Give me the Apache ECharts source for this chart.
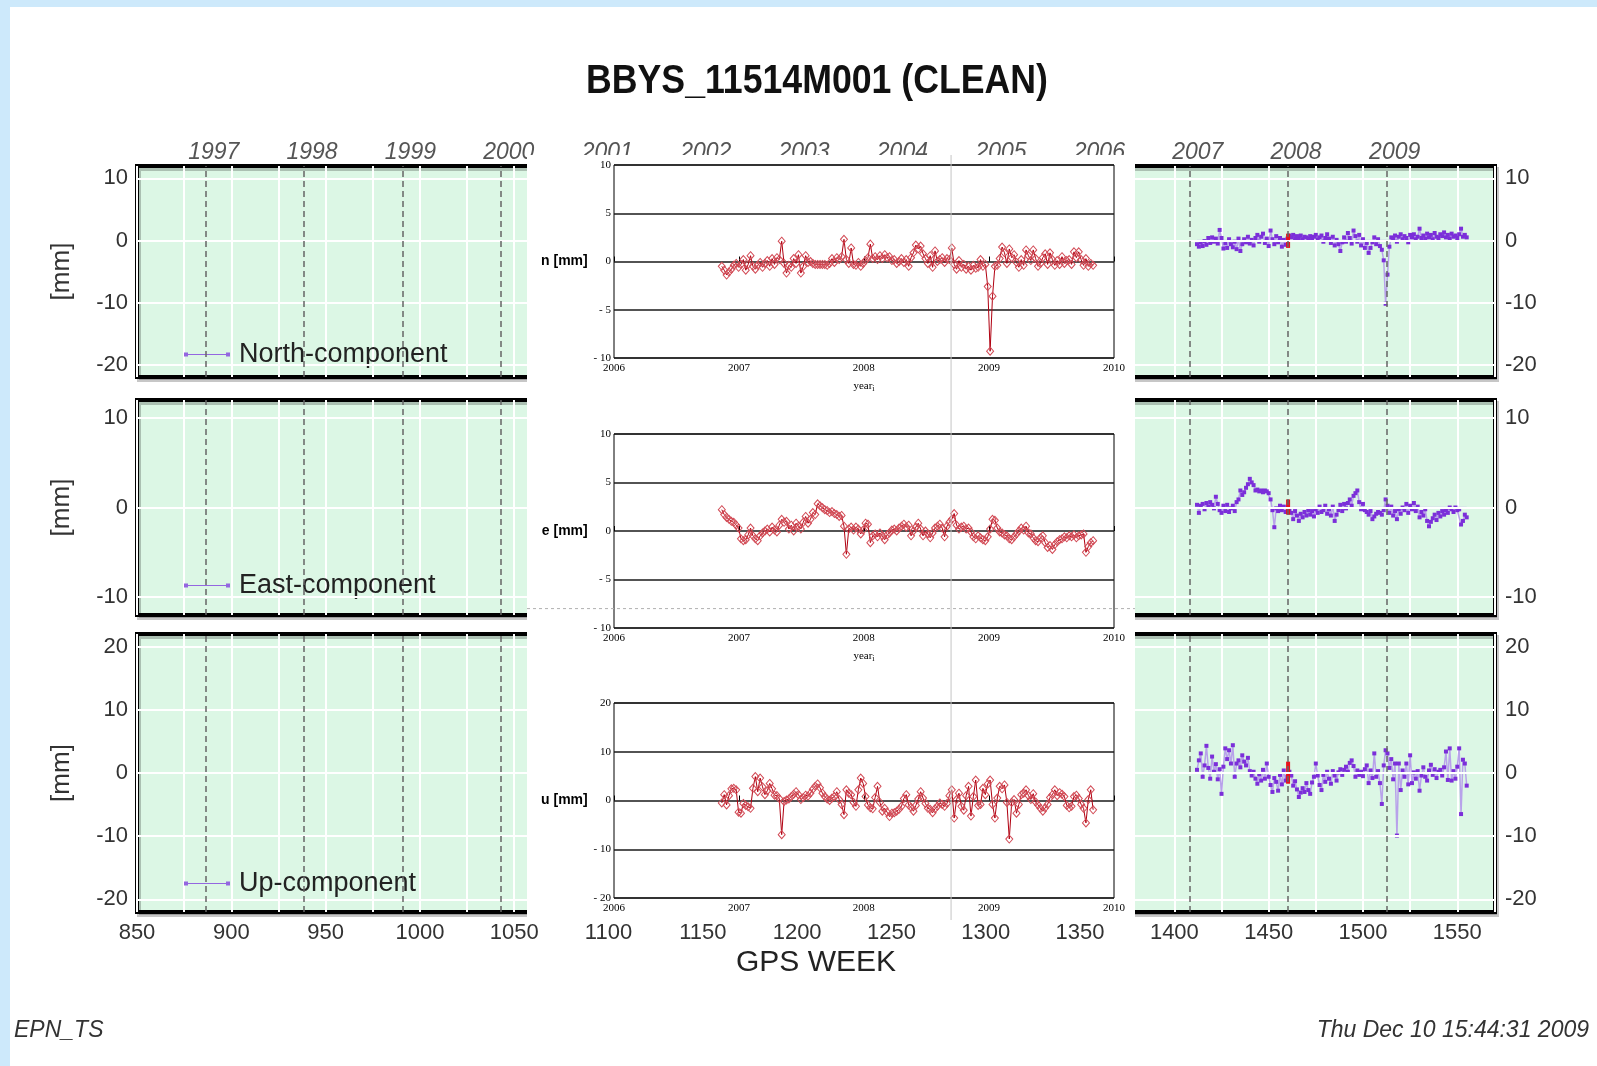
<!DOCTYPE html>
<html>
<head>
<meta charset="utf-8">
<title>BBYS_11514M001 (CLEAN)</title>
<script src="https://cdn.jsdelivr.net/npm/echarts@6.0.0/dist/echarts.min.js"></script>
<style>
  html, body { margin:0; padding:0; background:#cde9fb; width:1597px; height:1066px; overflow:hidden; }
  #paper { position:absolute; left:10px; top:7px; width:1587px; height:1059px; background:#fff; }
  #main { position:absolute; left:0; top:0; width:1597px; height:1066px; }
  #inset { position:absolute; left:527px; top:155px; width:608px; height:765px; background:#fff; }
</style>
</head>
<body>
<div id="paper"></div>
<div id="main"></div>
<div id="inset"></div>
<script>
// ---- main plot data (GPS week, mm) ----
const purpleWeeks = [
  1412,1413,1414,1415,1416,1417,1418,1419,1420,1421,
  1422,1423,1424,1425,1426,1427,1428,1429,1430,1431,
  1432,1433,1434,1435,1436,1437,1438,1439,1440,1441,
  1442,1443,1444,1445,1446,1447,1448,1449,1450,1451,
  1452,1453,1454,1455,1456,1457,1458,1459,1460,1461,
  1462,1463,1464,1465,1466,1467,1468,1469,1470,1471,
  1472,1473,1474,1475,1476,1477,1478,1479,1480,1481,
  1482,1483,1484,1485,1486,1487,1488,1489,1490,1491,
  1492,1493,1494,1495,1496,1497,1498,1499,1500,1501,
  1502,1503,1504,1505,1506,1507,1508,1509,1510,1511,
  1512,1513,1514,1515,1516,1517,1518,1519,1520,1521,
  1522,1523,1524,1525,1526,1527,1528,1529,1530,1531,
  1532,1533,1534,1535,1536,1537,1538,1539,1540,1541,
  1542,1543,1544,1545,1546,1547,1548,1549,1550,1551,
  1552,1553,1554,1555
];
const purpleN = [
  -0.6,-1.0,-0.3,-0.9,-0.1,-0.7,0.4,-0.4,0.5,-0.2,
  0.3,-0.5,1.7,0.4,-1.3,-0.4,-1.2,0.2,-0.6,-1.1,
  -0.2,-1.4,0.3,-1.7,-0.6,0.2,-0.3,0.6,-0.5,0.1,
  -0.8,0.4,0.9,-0.2,0.6,1.1,-0.4,0.3,-0.9,1.6,
  0.2,-0.6,0.7,-0.3,0.4,-1.0,0.1,-0.7,0.3,0.8,
  0.5,0.9,0.3,0.7,0.4,0.8,0.2,0.6,0.5,0.3,
  0.7,0.1,0.6,0.9,0.2,0.5,0.8,-0.2,0.4,1.0,
  0.3,-0.4,0.6,-0.8,0.1,-0.6,-1.7,-0.3,0.5,-0.2,
  1.2,0.4,-0.5,1.6,0.7,-0.2,0.9,-0.8,0.2,-1.2,
  -0.4,-2.0,-1.2,-0.3,0.5,-0.6,0.2,-0.9,-1.5,-3.2,
  -10.2,-5.5,-1.0,0.5,0.3,0.8,-0.2,0.6,1.0,0.2,
  0.7,0.4,-0.3,0.9,0.5,1.0,0.2,0.6,1.9,0.4,
  0.8,0.3,1.1,0.5,0.9,0.2,1.2,0.6,0.4,1.0,
  0.7,1.3,0.5,0.9,0.3,1.1,0.6,0.8,0.4,1.0,
  1.9,0.6,0.9,0.5
];
const purpleE = [
  0.3,-0.6,0.2,0.4,-0.2,0.5,0.1,0.6,0.3,-0.1,
  1.2,0.4,-0.3,-0.6,0.2,-0.4,0.3,-0.5,-0.1,0.2,
  -0.4,0.6,0.9,1.9,1.4,1.7,2.2,2.6,3.2,2.8,
  2.5,1.9,2.0,1.8,1.9,1.7,1.9,1.8,1.6,0.9,
  -0.3,-2.2,-0.1,-0.4,0.2,-0.3,0.1,-0.5,0.0,-0.2,
  -0.6,-1.3,-0.4,-0.9,-1.5,-0.7,-1.1,-0.5,-0.9,-0.3,
  -0.8,-0.4,-1.0,-0.2,-0.6,0.1,-0.5,-0.3,0.2,-0.7,
  -0.2,-0.9,0.1,-1.5,-0.8,-0.3,0.3,-0.4,0.4,-0.1,
  0.5,0.9,0.2,1.3,1.6,1.9,0.6,-0.2,0.4,-0.3,
  -0.5,-0.8,-0.4,-1.3,-1.0,-0.7,-0.5,-0.6,-0.8,-0.3,
  0.9,0.2,-0.6,0.1,-0.9,-0.4,-1.3,-0.2,-0.7,0.0,
  -0.3,0.4,-0.6,0.2,-0.2,0.5,-0.4,0.1,-1.1,-0.5,
  -0.9,-0.2,-1.5,-2.1,-1.6,-1.2,-0.8,-1.4,-0.6,-1.0,
  -0.4,-0.8,-0.3,-0.6,0.0,-0.2,-0.5,0.0,-0.3,-0.2,
  -1.9,-1.5,-0.8,-1.1
];
const purpleU = [
  0.5,2.0,3.1,-0.6,1.2,4.3,0.8,-0.9,2.6,0.2,
  1.4,-1.0,0.6,-3.3,1.0,3.9,2.2,3.6,1.5,4.4,
  -0.6,1.5,2.0,0.9,2.8,1.8,1.2,2.4,0.3,-0.4,
  0.2,-0.9,-1.7,-0.2,-1.2,0.5,-0.9,1.5,-0.6,-1.9,
  -3.0,-0.8,-1.4,-2.8,-0.3,-1.8,0.4,-1.2,-0.6,0.2,
  -0.4,-2.0,-1.3,-2.6,-3.8,-3.1,-2.4,-3.0,-1.6,-2.7,
  -3.3,-1.5,-0.6,1.5,-0.4,-1.9,-2.7,-0.3,-1.4,0.2,
  -0.9,-1.7,0.3,-0.4,-1.2,0.1,0.6,-0.3,0.5,1.0,
  0.2,1.6,2.0,1.1,-0.6,0.4,-0.3,0.2,-0.5,0.6,
  1.2,-1.6,0.4,-0.8,3.1,-0.6,0.3,-1.6,-4.9,1.2,
  3.6,3.1,0.8,2.2,-1.0,1.5,-9.9,1.5,-2.7,0.4,
  -0.6,1.5,-1.8,2.8,-1.6,0.1,-0.9,0.3,-2.8,-0.4,
  0.9,-0.6,-1.2,0.4,1.3,-0.3,0.6,-0.8,0.2,0.5,
  -0.4,0.9,3.4,-1.1,3.9,-1.2,0.3,-0.9,1.0,3.9,
  -6.5,2.1,1.5,-2.0
];
// zero reference segment and the red change marker (week, [low, high])
const zeroSpan = [1412, 1555];
const changeWeek = 1460.3;
const changeN = [-1.2, 1.1];
const changeE = [-0.8, 0.9];
const changeU = [-1.7, 1.8];

// year boundaries in GPS weeks (top labels, dashed lines)
const yearWeeks = [886.43, 938.57, 990.71, 1042.86, 1095.14, 1147.29, 1199.43, 1251.57, 1303.86, 1356.0, 1408.14, 1460.29, 1512.57];
const yearLabels = ['1997','1998','1999','2000','2001','2002','2003','2004','2005','2006','2007','2008','2009'];
const weekMin = 850, weekMax = 1570;
const yTicksN = [-20,-10,0,10];
const yTicksE = [-10,0,10];
const yTicksU = [-20,-10,0,10,20];

// ---- inset data (pasted plot, weeks shown as years) ----
const redWeeks = [
  1401,1402,1403,1404,1405,1406,1407,1408,1409,1410,
  1411,1412,1413,1414,1415,1416,1417,1418,1419,1420,
  1421,1422,1423,1424,1425,1426,1427,1428,1429,1430,
  1431,1432,1433,1434,1435,1436,1437,1438,1439,1440,
  1441,1442,1443,1444,1445,1446,1447,1448,1449,1450,
  1451,1452,1453,1454,1455,1456,1457,1458,1459,1460,
  1461,1462,1463,1464,1465,1466,1467,1468,1469,1470,
  1471,1472,1473,1474,1475,1476,1477,1478,1479,1480,
  1481,1482,1483,1484,1485,1486,1487,1488,1489,1490,
  1491,1492,1493,1494,1495,1496,1497,1498,1499,1500,
  1501,1502,1503,1504,1505,1506,1507,1508,1509,1510,
  1511,1512,1513,1514,1515,1516,1517,1518,1519,1520,
  1521,1522,1523,1524,1525,1526,1527,1528,1529,1530,
  1531,1532,1533,1534,1535,1536,1537,1538,1539,1540,
  1541,1542,1543,1544,1545,1546,1547,1548,1549,1550,
  1551,1552,1553,1554,1555,1556
];
const redN = [
  -0.5,-0.9,-1.4,-1.1,-0.8,-0.4,-0.2,-0.6,-0.3,0.2,
  -0.9,-0.3,0.6,-0.5,-0.8,-0.4,-0.1,-0.6,-0.2,0.1,
  -0.5,0.3,-0.3,0.4,0.2,2.1,-0.2,-1.2,-0.4,-0.6,
  0.3,-0.2,0.7,-1.2,-0.5,0.6,-0.1,0.0,-0.2,-0.3,
  -0.3,-0.3,-0.3,-0.3,-0.4,-0.2,0.3,-0.1,0.4,0.2,
  0.5,2.3,0.2,-0.2,1.4,-0.3,-0.4,-0.1,-0.5,-0.2,
  0.1,0.4,1.8,0.3,0.5,0.2,0.6,0.3,0.7,0.4,
  0.5,0.1,0.2,-0.2,0.0,0.3,-0.1,0.2,-0.5,0.4,
  0.9,1.7,1.3,1.6,0.8,0.3,-0.2,0.6,-0.6,1.1,
  0.0,0.2,0.4,-0.1,0.3,0.2,1.4,-0.3,-0.8,0.1,
  -0.6,-0.3,-0.8,-0.5,-0.9,-0.4,-0.7,-0.6,0.2,-0.5,
  -0.3,-2.6,-9.3,-3.6,-0.5,-0.4,0.3,1.5,0.9,-0.2,
  1.3,0.4,0.7,-0.1,-0.6,0.2,-0.4,1.2,0.6,0.1,
  1.2,0.3,-0.5,-0.2,0.4,0.8,-0.3,0.9,0.2,-0.4,
  0.1,-0.3,0.5,-0.2,0.1,0.2,-0.3,1.0,0.4,1.0,
  0.2,-0.4,0.3,-0.5,-0.2,-0.4
];
const redE = [
  2.2,1.7,1.4,1.2,1.0,0.9,0.6,0.3,-0.8,-1.0,
  -0.9,-0.4,0.3,-0.5,-0.8,-1.0,-0.5,-0.2,0.0,0.2,
  -0.1,0.4,0.1,-0.1,0.6,1.2,0.9,1.0,0.2,0.6,
  0.0,0.8,0.5,0.2,0.9,1.5,0.8,1.2,1.9,1.7,
  2.8,2.6,2.4,2.2,2.1,1.9,2.0,1.8,1.7,1.5,
  1.6,0.5,-2.4,0.2,0.4,0.1,0.4,0.2,-0.3,0.1,
  0.8,0.7,-1.2,-0.5,-0.3,-0.6,-0.2,-0.5,-0.9,-0.4,
  -0.2,0.1,0.2,0.0,0.3,0.5,0.7,0.4,0.6,-0.5,
  0.0,0.4,0.8,0.2,-0.5,0.0,-0.3,-0.7,-0.2,0.3,
  0.5,0.7,0.3,-0.6,0.5,0.9,1.2,1.8,0.6,0.2,
  0.4,0.5,0.2,0.3,-0.1,-0.6,-0.8,-0.5,-0.7,-0.9,
  -1.0,-0.6,0.2,1.2,1.1,0.3,-0.1,-0.2,-0.4,-0.5,
  -0.8,-0.9,-0.6,-0.3,0.0,0.3,0.1,0.5,-0.2,-0.3,
  -0.7,-1.0,-1.1,-0.7,-0.5,-1.2,-1.7,-1.5,-1.9,-1.4,
  -1.1,-0.9,-0.8,-0.6,-0.7,-0.5,-0.6,-0.4,-0.7,-0.5,
  -0.4,-0.3,-2.2,-1.6,-1.2,-1.0
];
const redU = [
  -0.5,1.2,-0.9,1.0,2.4,2.5,2.2,-2.4,-2.6,-0.6,
  -1.0,-1.3,-1.6,2.5,4.9,1.8,4.6,2.8,1.2,2.0,
  3.5,2.4,1.1,1.0,0.4,-7.0,-0.2,0.1,0.3,0.8,
  1.3,1.8,1.2,0.2,0.6,1.1,0.9,1.5,2.3,2.9,
  3.4,2.6,1.5,0.8,0.3,0.0,0.5,0.8,1.8,0.2,
  -0.8,-2.9,2.2,1.5,1.2,-0.4,-1.2,2.2,4.6,3.5,
  0.8,-0.9,-1.5,-1.7,0.6,2.9,-0.4,-2.2,-1.6,-2.4,
  -3.3,-2.6,-2.5,-2.2,-1.8,-1.2,0.4,1.2,-0.9,-1.4,
  -2.2,-1.0,0.3,1.8,0.5,-0.6,-1.6,-1.8,-2.5,-1.7,
  -1.2,-0.5,-0.8,-1.2,-0.6,1.0,2.2,-3.6,0.2,1.5,
  -1.2,-2.0,1.0,2.9,-3.2,0.8,4.2,-1.0,-0.8,2.5,
  1.2,3.4,4.2,-0.8,-3.6,0.5,2.9,2.4,3.2,-0.4,
  -7.9,-0.4,0.2,-2.6,-0.8,1.2,1.5,2.2,1.0,0.2,
  1.4,-0.3,-0.9,-1.6,-2.2,-1.5,-0.8,0.6,1.2,2.2,
  1.0,1.6,1.3,0.8,-1.0,-1.5,-1.2,0.8,1.1,0.4,
  -0.8,-1.6,-4.6,0.2,2.2,-1.9
];
const insetYearWeeks = [1356.0, 1408.14, 1460.29, 1512.57, 1564.71];
const insetYearLabels = ['2006','2007','2008','2009','2010'];
const cursorWeek = 1496.7;   // grey cursor line in the pasted plot
const guideE = -8;           // dashed guide line value in the e panel

const SANS = '"Liberation Sans", Arial, Helvetica, sans-serif';
const SERIF = '"Liberation Serif", "Times New Roman", serif';

// ---------------- main chart ----------------
const main = echarts.init(document.getElementById('main'), null, {renderer: 'canvas'});

const panels = [
  {name: 'North-component', top: 166, height: 211, range: [-22, 12], ticks: yTicksN, vals: purpleN, change: changeN, legendTop: 336},
  {name: 'East-component',  top: 400, height: 215, range: [-12, 12], ticks: yTicksE, vals: purpleE, change: changeE, legendTop: 567},
  {name: 'Up-component',    top: 634, height: 278, range: [-22, 22], ticks: yTicksU, vals: purpleU, change: changeU, legendTop: 865}
];

const grid = [], xAxis = [], yAxis = [], series = [], legend = [];
panels.forEach((p, i) => {
  grid.push({
    left: 137, width: 1358, top: p.top, height: p.height, show: true,
    backgroundColor: '#dcf7e5', borderColor: '#000', borderWidth: 4,
    shadowColor: 'rgba(0,0,0,0.22)', shadowOffsetX: 2, shadowOffsetY: 3
  });
  xAxis.push({
    gridIndex: i, type: 'value', min: weekMin, max: weekMax, interval: 25,
    axisLine: {show: false}, axisTick: {show: false},
    splitLine: {show: true, lineStyle: {color: '#fff', width: 2}},
    axisLabel: {
      show: i === 2, fontFamily: SANS, fontSize: 22, color: '#333', margin: 10,
      formatter: v => (v % 50 === 0 ? String(v) : '')
    },
    name: i === 2 ? 'GPS WEEK' : '', nameLocation: 'middle', nameGap: 36,
    nameTextStyle: {fontFamily: SANS, fontSize: 30, color: '#222'}
  });
  yAxis.push({
    gridIndex: i, type: 'value', position: 'left', min: p.range[0], max: p.range[1],
    axisLine: {show: false}, axisTick: {show: false}, splitLine: {show: false},
    axisLabel: {customValues: p.ticks, fontFamily: SANS, fontSize: 22, color: '#333', margin: 9},
    name: '[mm]', nameLocation: 'middle', nameGap: 62,
    nameTextStyle: {fontFamily: SANS, fontSize: 26, color: '#333'}
  });
  yAxis.push({
    gridIndex: i, type: 'value', position: 'right', min: p.range[0], max: p.range[1],
    axisLine: {show: false}, axisTick: {show: false}, splitLine: {show: false},
    axisLabel: {customValues: p.ticks, fontFamily: SANS, fontSize: 22, color: '#333', margin: 10}
  });

  // horizontal white grid lines and dashed year lines
  series.push({
    type: 'line', xAxisIndex: i, yAxisIndex: 2 * i, data: [], silent: true, z: 1,
    markLine: {
      silent: true, symbol: 'none', label: {show: false}, animation: false,
      data: p.ticks.map(v => ({yAxis: v, lineStyle: {color: '#fff', width: 2, type: 'solid'}}))
        .concat(yearWeeks.map(w => ({xAxis: w, lineStyle: {color: '#666', width: 1.5, type: [6, 4]}})))
    }
  });
  series.push({
    type: 'line', xAxisIndex: i, yAxisIndex: 2 * i, silent: true, z: 2,
    data: [[zeroSpan[0], 0], [zeroSpan[1], 0]], symbol: 'none',
    lineStyle: {color: '#c9bced', width: 1.5}
  });
  series.push({
    name: p.name, type: 'line', xAxisIndex: i, yAxisIndex: 2 * i, z: 3,
    data: purpleWeeks.map((w, k) => [w, p.vals[k]]),
    symbol: 'rect', symbolSize: 4,
    itemStyle: {color: '#7b2fd9'},
    lineStyle: {color: '#b8a2ea', width: 1.5}
  });
  series.push({
    type: 'line', xAxisIndex: i, yAxisIndex: 2 * i, silent: true, z: 4,
    data: [[changeWeek, p.change[0]], [changeWeek, p.change[1]]], symbol: 'none',
    lineStyle: {color: '#e8121c', width: 4}
  });
  legend.push({
    data: [p.name], left: 179, top: p.legendTop, selectedMode: false,
    icon: 'path://M0,2h4v4h-4zM42,2h4v4h-4zM4,3.4h38v1.2h-38z',
    itemWidth: 46, itemHeight: 8, itemStyle: {color: '#9466e0'},
    textStyle: {fontFamily: SANS, fontSize: 27, color: '#222', padding: [0, 0, 0, 4]}
  });
});

// top year axis
xAxis.push({
  gridIndex: 0, type: 'value', position: 'top', min: weekMin, max: weekMax,
  axisLine: {show: false}, axisTick: {show: false}, splitLine: {show: false},
  axisLabel: {
    customValues: yearWeeks, formatter: v => yearLabels[yearWeeks.indexOf(v)],
    fontFamily: SANS, fontStyle: 'italic', fontSize: 23, color: '#555', margin: 2,
    padding: [0, 0, 0, 16]
  }
});

main.setOption({
  animation: false,
  grid, xAxis, yAxis, series, legend,
  graphic: [
    {type: 'text', x: 817, y: 82, scaleX: 0.87, silent: true,
     style: {text: 'BBYS_11514M001 (CLEAN)', font: 'bold 41px ' + SANS,
             fill: '#111', align: 'center', verticalAlign: 'middle', textAlign: 'center', textVerticalAlign: 'middle'}},
    {type: 'text', x: 14, y: 1031, silent: true,
     style: {text: 'EPN_TS', font: 'italic 23px ' + SANS, fill: '#333',
             align: 'left', verticalAlign: 'middle', textAlign: 'left', textVerticalAlign: 'middle'}},
    {type: 'text', x: 1589, y: 1031, silent: true,
     style: {text: 'Thu Dec 10 15:44:31 2009', font: 'italic 23px ' + SANS, fill: '#333',
             align: 'right', verticalAlign: 'middle', textAlign: 'right', textVerticalAlign: 'middle'}}
  ]
});

// ---------------- inset (pasted plot) ----------------
const inset = echarts.init(document.getElementById('inset'), null, {renderer: 'canvas'});
const insetPanels = [
  {label: 'n [mm]', top: 10,  height: 193, min: -10, max: 10, step: 5,  vals: redN, year: true},
  {label: 'e [mm]', top: 279, height: 194, min: -10, max: 10, step: 5,  vals: redE, year: true},
  {label: 'u [mm]', top: 548, height: 195, min: -20, max: 20, step: 10, vals: redU, year: false}
];
const iGrid = [], iX = [], iY = [], iSeries = [];
insetPanels.forEach((p, i) => {
  iGrid.push({left: 87, width: 500, top: p.top, height: p.height, show: true,
              backgroundColor: '#fff', borderColor: '#000', borderWidth: 1});
  iX.push({
    gridIndex: i, type: 'value', min: insetYearWeeks[0], max: insetYearWeeks[insetYearWeeks.length - 1],
    axisLine: {show: false}, splitLine: {show: false},
    axisTick: {customValues: insetYearWeeks, inside: true, length: 5, lineStyle: {color: '#000'}},
    axisLabel: {customValues: insetYearWeeks, formatter: v => insetYearLabels[insetYearWeeks.indexOf(v)],
                fontFamily: SERIF, fontSize: 11, color: '#000', margin: 5},
    name: p.year ? '{a|year}{b|i}' : '', nameLocation: 'middle', nameGap: 21,
    nameTextStyle: {rich: {
      a: {fontFamily: SERIF, fontSize: 11, color: '#000'},
      b: {fontFamily: SERIF, fontSize: 8, color: '#000', padding: [6, 0, 0, 0]}
    }}
  });
  iY.push({
    gridIndex: i, type: 'value', min: p.min, max: p.max, interval: p.step,
    axisLine: {show: false}, axisTick: {show: false},
    splitLine: {show: true, lineStyle: {color: '#1a1a1a', width: 1.5}},
    axisLabel: {fontFamily: SERIF, fontSize: 11, color: '#000', margin: 3,
                formatter: v => (v < 0 ? '- ' + (-v) : String(v))},
    name: p.label, nameLocation: 'middle', nameRotate: 0, nameGap: 22,
    nameTextStyle: {fontFamily: SANS, fontSize: 14, fontWeight: 'bold', color: '#000'}
  });
  iSeries.push({
    type: 'line', xAxisIndex: i, yAxisIndex: i, z: 3,
    data: redWeeks.map((w, k) => [w, p.vals[k]]),
    symbol: 'diamond', symbolSize: [7, 8],
    itemStyle: {color: 'rgba(255,255,255,0)', borderColor: '#d24a55', borderWidth: 1},
    lineStyle: {color: '#b00010', width: 1}
  });
});
inset.setOption({animation: false, grid: iGrid, xAxis: iX, yAxis: iY, series: iSeries});

const cx = inset.convertToPixel({xAxisIndex: 0}, cursorWeek);
const gy = inset.convertToPixel({yAxisIndex: 1}, guideE);
inset.setOption({
  graphic: [
    {type: 'line', silent: true, z: 100, shape: {x1: cx, y1: 0, x2: cx, y2: 765},
     style: {stroke: '#c4c4c4', lineWidth: 1}},
    {type: 'line', silent: true, z: 100, shape: {x1: 0, y1: gy, x2: 608, y2: gy},
     style: {stroke: '#b0b0b0', lineWidth: 1, lineDash: [3, 3]}}
  ]
});
</script>
</body>
</html>
